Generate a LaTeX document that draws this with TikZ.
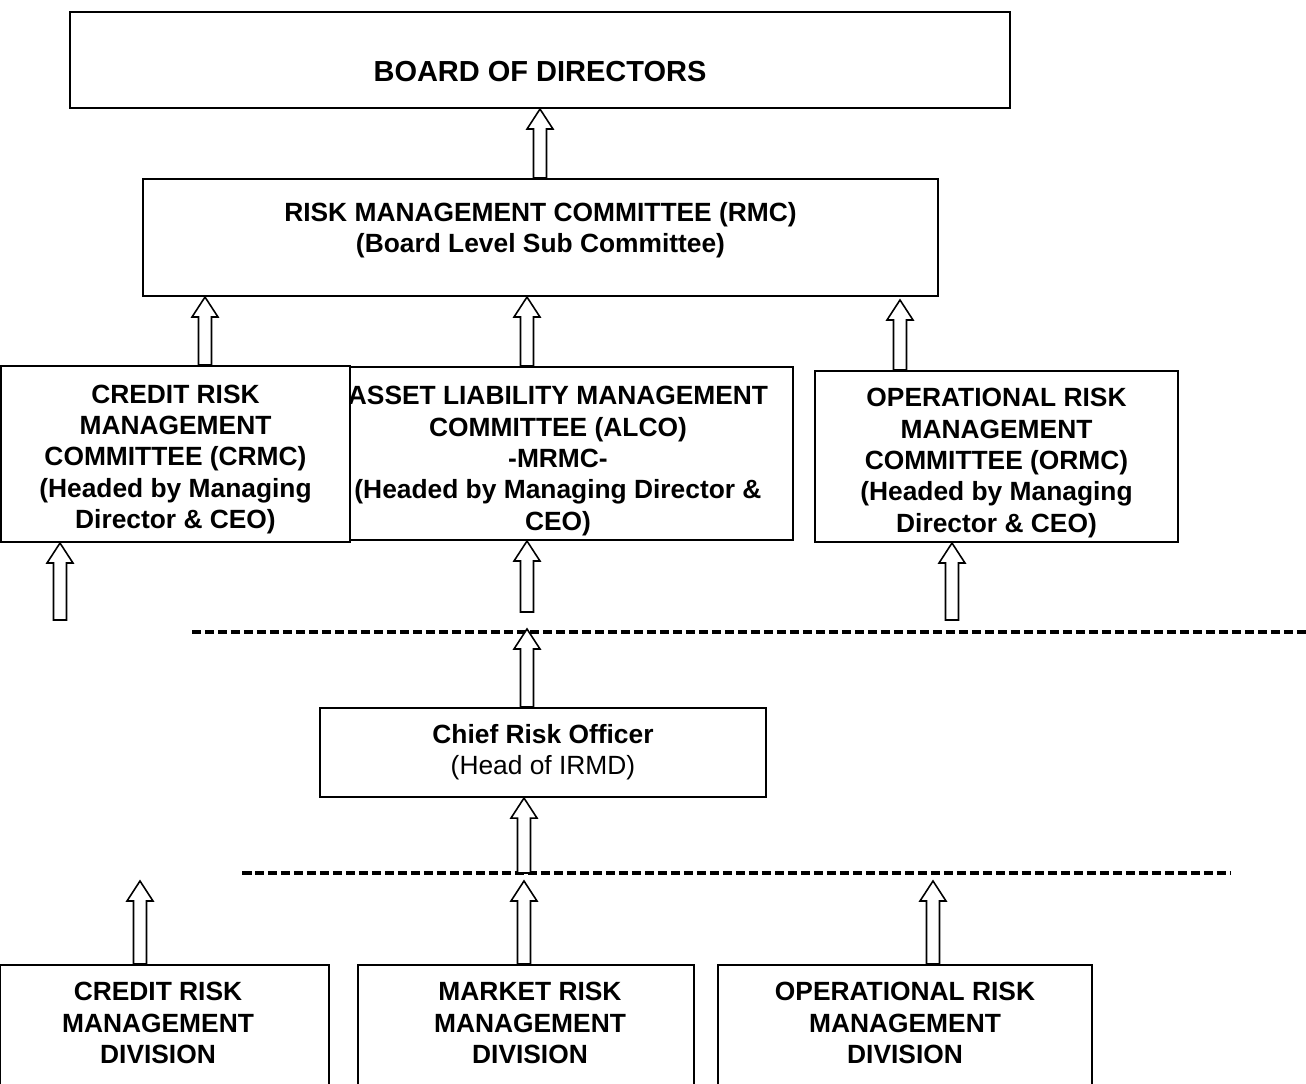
\documentclass[tikz,border=0pt]{standalone}
\usepackage{fontspec}
\setmainfont{Liberation Sans}
\usetikzlibrary{calc,positioning}

\begin{document}
\begin{tikzpicture}[x=0.02cm,y=-0.02cm]
  \tikzset{box/.style={rectangle,draw,fill=white,line width=1.2pt,inner sep=2pt},
    txt/.style={font=\fontsize{15pt}{17.8pt}\selectfont\bfseries,align=center},
    uparr/.style={draw,fill=white,line width=0.9pt,line join=miter,
      to path={let \p1=(\tikztostart),\p2=(\tikztotarget) in
        (\x1-0.13cm,\y1) -- (\x1-0.13cm,\y2-0.4cm) -- (\x1-0.26cm,\y2-0.4cm)
        -- (\x1,\y2) -- (\x1+0.26cm,\y2-0.4cm) -- (\x1+0.13cm,\y2-0.4cm)
        -- (\x1+0.13cm,\y1) -- cycle}},
    dashline/.style={line width=1.9pt,dash pattern=on 0.19cm off 0.07cm}}
  \useasboundingbox (0,0) rectangle (1306,1084);
  % committees
  \node[box,minimum width=18.8cm,minimum height=1.92cm,
    label={[txt,font=\fontsize{16.5pt}{19pt}\selectfont\bfseries,yshift=-0.24cm]center:BOARD OF DIRECTORS}]
    (board) at (540,60) {};
  \node[box,minimum width=15.9cm,minimum height=2.34cm,
    label={[txt,yshift=0.14cm]center:RISK MANAGEMENT COMMITTEE (RMC)\\(Board Level Sub Committee)}]
    (rmc) at (540.5,237.5) {};
  \node[box,minimum width=8.86cm,minimum height=3.46cm,
    label={[txt,xshift=-0.27cm,yshift=-0.15cm]center:ASSET LIABILITY MANAGEMENT\\COMMITTEE (ALCO)\\-MRMC-\\(Headed by Managing Director \&\\CEO)}]
    (alco) at (571.5,453.5) {};
  \node[box,minimum width=6.98cm,minimum height=3.52cm,
    label={[txt,yshift=-0.11cm]center:CREDIT RISK\\MANAGEMENT\\COMMITTEE (CRMC)\\(Headed by Managing\\Director \& CEO)}]
    (crmc) at (175.5,454) {};
  \node[box,minimum width=7.26cm,minimum height=3.42cm,
    label={[txt,yshift=-0.13cm]center:OPERATIONAL RISK\\MANAGEMENT\\COMMITTEE (ORMC)\\(Headed by Managing\\Director \& CEO)}]
    (ormc) at (996.5,456.5) {};
  \node[box,txt,font=\fontsize{15pt}{17.8pt}\selectfont,minimum width=8.92cm,minimum height=1.78cm]
    (cro) at (543,752.5) {{\bfseries Chief Risk Officer}\\(Head of IRMD)};
  % divisions
  \node[box,minimum width=6.58cm,minimum height=2.9cm,
    label={[txt,xshift=-0.13cm,yshift=0.29cm]center:CREDIT RISK\\MANAGEMENT\\DIVISION}] (crmd) at (164.5,1037.5) {};
  \node[box,minimum width=6.72cm,minimum height=2.9cm,
    label={[txt,xshift=0.08cm,yshift=0.29cm]center:MARKET RISK\\MANAGEMENT\\DIVISION}] (mrmd) at (526,1037.5) {};
  \node[box,minimum width=7.48cm,minimum height=2.9cm,
    label={[txt,yshift=0.29cm]center:OPERATIONAL RISK\\MANAGEMENT\\DIVISION}] (ormd) at (905,1037.5) {};

  % dashed separators
  \coordinate (lineA) at (192,632);
  \coordinate (lineAend) at (1306,632);
  \coordinate (lineB) at (242,873);
  \coordinate (lineBend) at (1230,873);
  \draw[dashline] (lineA) -- (lineAend);
  \draw[dashline] (lineB) -- (lineBend);

  % free arrow ends
  \coordinate (ormctip) at (900,300);
  \coordinate (crmcfoot) at (60,620);
  \coordinate (alcofoot) at (527,612);
  \coordinate (ormcfoot) at (952,620);
  \coordinate (crotip) at (527,629);
  \coordinate (crofoot) at (524,873);
  \coordinate (crmdtip) at (140,881);
  \coordinate (mrmdtip) at (524,881);
  \coordinate (ormdtip) at (933,881);

  % arrows
  \draw[uparr] (rmc.north -| 540,0) to (board.south -| 540,0);
  \draw[uparr] (crmc.north -| 205,0) to (rmc.south -| 205,0);
  \draw[uparr] (alco.north -| 527,0) to (rmc.south -| 527,0);
  \draw[uparr] (ormc.north -| 900,0) to (ormctip);
  \draw[uparr] (crmcfoot) to (crmcfoot |- crmc.south);
  \draw[uparr] (alcofoot) to (alcofoot |- alco.south);
  \draw[uparr] (ormcfoot) to (ormcfoot |- ormc.south);
  \draw[uparr] (cro.north -| 527,0) to (crotip);
  \draw[uparr] (crofoot) to (crofoot |- cro.south);
  \draw[uparr] (crmd.north -| 140,0) to (crmdtip);
  \draw[uparr] (mrmd.north -| 524,0) to (mrmdtip);
  \draw[uparr] (ormd.north -| 933,0) to (ormdtip);
\end{tikzpicture}
\end{document}
